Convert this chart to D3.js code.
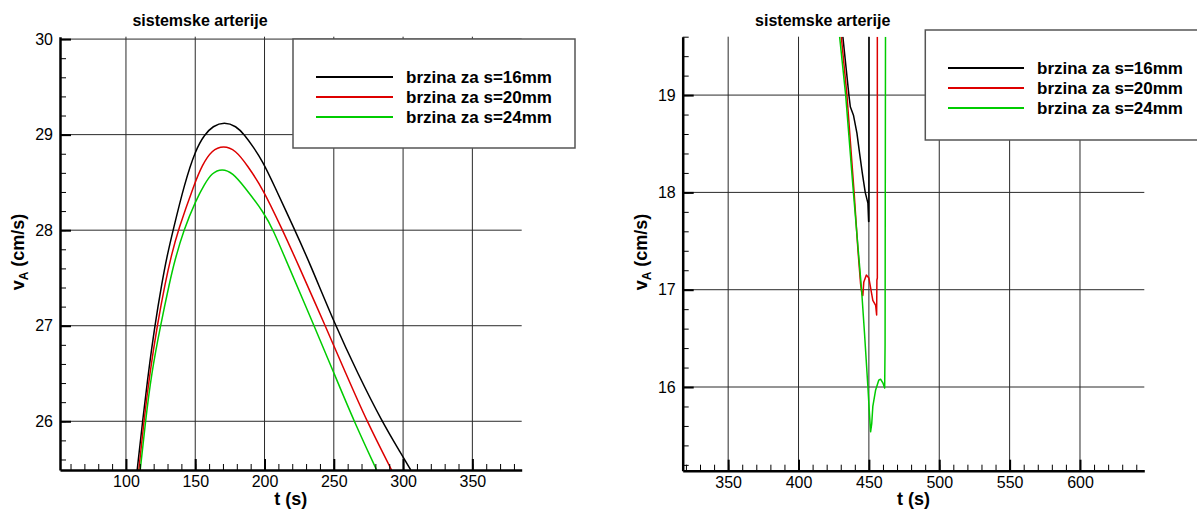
<!DOCTYPE html>
<html><head><meta charset="utf-8">
<script src="https://cdn.jsdelivr.net/npm/d3@7"></script>
<style>
body{margin:0;background:#fff}
svg{display:block;font-family:"Liberation Sans",Arial,Helvetica,sans-serif}
</style>
</head><body>
<svg id="c" width="1197" height="512"></svg>
<script>
// ---------- data ----------
const titleText = "sistemske arterije";
const xTitle = "t (s)";
const seriesNames = ["brzina za s=16mm", "brzina za s=20mm", "brzina za s=24mm"];
const seriesColors = ["#000000", "#dd0000", "#00cc00"];

const leftMajorX = [100, 150, 200, 250, 300, 350];
const leftMajorY = [26, 27, 28, 29, 30];
const rightMajorX = [350, 400, 450, 500, 550, 600];
const rightMajorY = [16, 17, 18, 19];

// [t, vA] pairs, left panel
const left16 = [[108.1,25.49],[112,26.0],[116.1,26.5],[120.8,27.0],[126.1,27.46],[129.5,27.72],[134,28.0],[142.3,28.49],[150.2,28.84],[156.7,29.0],[162.7,29.09],[171,29.135],[179.5,29.09],[185.4,29.0],[192,28.87],[198.6,28.72],[206.3,28.49],[221.9,28.0],[232.2,27.67],[251.2,27.0],[267.3,26.5],[284.6,26.0],[299,25.65],[305.5,25.49]];
const left20 = [[109.3,25.49],[112.9,26.0],[117.2,26.5],[122.5,27.0],[128.5,27.46],[132.5,27.72],[137.6,28.0],[149.5,28.49],[155,28.68],[162,28.84],[170.5,28.885],[179,28.84],[187.5,28.68],[198.6,28.44],[213,28.0],[223.4,27.67],[243.8,27.0],[258.7,26.5],[273.8,26.0],[291.7,25.49]];
const left24 = [[110.3,25.49],[114.1,26.0],[118.4,26.5],[124.9,27.0],[131.6,27.46],[135,27.67],[141.6,28.0],[150.7,28.32],[156.7,28.48],[162,28.6],[169.4,28.645],[177,28.6],[185.4,28.455],[199.8,28.18],[206.3,28.0],[215.4,27.69],[235.8,27.0],[250.2,26.5],[264.6,26.0],[280.9,25.49]];

// [t, vA] pairs, right panel
const right16 = [[431.5,19.6],[435.8,19.0],[436.8,18.88],[439.1,18.79],[441.5,18.61],[443.4,18.40],[445.3,18.20],[447.4,18.0],[449.3,17.89],[449.8,17.70],[450.0,17.70],[450.1,19.6]];
const right20 = [[430.4,19.6],[434.4,19.0],[439.5,18.0],[442.2,17.41],[444.1,17.06],[445.0,16.96],[445.7,16.94],[446.4,17.08],[448.2,17.15],[450,17.12],[452.8,16.89],[454.8,16.84],[455.5,16.74],[455.7,17.1],[456.0,17.12],[456.0,19.6]];
const right24 = [[429.2,19.6],[433.5,19.0],[439.0,18.0],[444.8,17.0],[446.9,16.55],[449.3,16.0],[450.3,15.75],[451.2,15.54],[452.0,15.62],[452.8,15.80],[454.8,15.97],[457,16.07],[458.3,16.08],[460,16.04],[461.2,15.99],[461.5,16.43],[461.8,19.6]];

// ---------- drawing ----------
const svg = d3.select("#c");
const fontFam = '"Liberation Sans", Arial, Helvetica, sans-serif';

function panel(o) {
  const x = d3.scaleLinear().domain(o.xDomain).range([o.left, o.right]);
  const y = d3.scaleLinear().domain(o.yDomain).range([o.bottom, o.top]);
  const g = svg.append("g");

  // grid
  g.selectAll("line.gx").data(o.majorX).join("line").attr("class", "gx")
    .attr("x1", d => x(d)).attr("x2", d => x(d))
    .attr("y1", o.bottom).attr("y2", o.top)
    .attr("stroke", "#2a2a2a").attr("stroke-width", 1);
  g.selectAll("line.gy").data(o.majorY).join("line").attr("class", "gy")
    .attr("x1", o.left).attr("x2", o.right)
    .attr("y1", d => y(d)).attr("y2", d => y(d))
    .attr("stroke", "#2a2a2a").attr("stroke-width", 1);

  // curves
  const cid = "clip" + o.id;
  svg.append("clipPath").attr("id", cid).append("rect")
    .attr("x", o.left).attr("y", o.top)
    .attr("width", o.right - o.left).attr("height", o.bottom - o.top);
  const line = d3.line().x(d => x(d[0])).y(d => y(d[1])).curve(o.curve);
  g.append("g").attr("clip-path", `url(#${cid})`)
    .selectAll("path").data(o.series).join("path")
    .attr("d", line).attr("fill", "none")
    .attr("stroke", (d, i) => seriesColors[i])
    .attr("stroke-width", 1.5).attr("stroke-linejoin", "round");

  // legend
  const L = o.legend;
  g.append("rect").attr("x", L.x).attr("y", L.y).attr("width", L.w).attr("height", L.h)
    .attr("fill", "#fff").attr("stroke", "#555").attr("stroke-width", 1.5);
  seriesNames.forEach((name, i) => {
    const yy = L.row0 + i * 20;
    g.append("line").attr("x1", L.lx1).attr("x2", L.lx2).attr("y1", yy).attr("y2", yy)
      .attr("stroke", seriesColors[i]).attr("stroke-width", 2);
    g.append("text").attr("x", L.tx).attr("y", yy + 5.5)
      .attr("font-size", 17).attr("font-weight", "bold").attr("font-family", fontFam)
      .text(name);
  });

  // axes: major
  const ay = d3.axisLeft(y).tickValues(o.majorY).tickSize(-11).tickSizeOuter(0).tickPadding(7)
    .tickFormat(d3.format("d"));
  const gy = g.append("g").attr("transform", `translate(${o.left},0)`).call(ay);
  const ax = d3.axisBottom(x).tickValues(o.majorX).tickSize(-11).tickSizeOuter(0).tickPadding(6)
    .tickFormat(d3.format("d"));
  const gx = g.append("g").attr("transform", `translate(0,${o.bottom})`).call(ax);
  // minor
  const mY = d3.axisLeft(y).tickValues(o.minorY).tickSize(-6).tickSizeOuter(0).tickFormat("");
  const gmy = g.append("g").attr("transform", `translate(${o.left},0)`).call(mY);
  const mX = d3.axisBottom(x).tickValues(o.minorX).tickSize(-6).tickSizeOuter(0).tickFormat("");
  const gmx = g.append("g").attr("transform", `translate(0,${o.bottom})`).call(mX);
  [gy, gx].forEach(a => {
    a.selectAll(".tick line").attr("stroke", "#000").attr("stroke-width", 2);
    a.selectAll(".tick text").attr("font-size", 16).attr("font-family", fontFam).attr("fill", "#000");
    a.select(".domain").attr("stroke", "#000").attr("stroke-width", 2.5);
  });
  [gmy, gmx].forEach(a => {
    a.selectAll(".tick line").attr("stroke", "#000").attr("stroke-width", 1);
    a.select(".domain").remove();
  });

  // titles
  g.append("text").attr("x", o.left + 140).attr("y", 26).attr("text-anchor", "middle")
    .attr("font-size", 16).attr("font-weight", "bold").attr("font-family", fontFam)
    .text(titleText);
  g.append("text").attr("x", (o.left + o.right) / 2).attr("y", 505).attr("text-anchor", "middle")
    .attr("font-size", 18).attr("font-weight", "bold").attr("font-family", fontFam)
    .text(xTitle);
  const yt = g.append("text").attr("transform", `translate(${o.left - 36},252) rotate(-90)`)
    .attr("text-anchor", "middle").attr("font-size", 18).attr("font-weight", "bold")
    .attr("font-family", fontFam);
  yt.append("tspan").text("v");
  yt.append("tspan").attr("font-size", 12).attr("dy", 4).text("A");
  yt.append("tspan").attr("dy", -4).text(" (cm/s)");
}

panel({
  id: "L", left: 60, right: 521.7, top: 36.7, bottom: 470,
  xDomain: [52.4, 385.6], yDomain: [25.49, 30.025],
  majorX: leftMajorX, majorY: leftMajorY,
  minorX: d3.range(60, 381, 10), minorY: d3.range(25.6, 30.01, 0.2),
  series: [left16, left20, left24], curve: d3.curveBasis,
  legend: {x: 293, y: 39, w: 282, h: 109, lx1: 316, lx2: 393, tx: 406, row0: 77}
});
panel({
  id: "R", left: 682.7, right: 1144.3, top: 36.7, bottom: 470.7,
  xDomain: [317.7, 645.7], yDomain: [15.14, 19.6],
  majorX: rightMajorX, majorY: rightMajorY,
  minorX: d3.range(320, 641, 10), minorY: d3.range(15.2, 19.61, 0.2),
  series: [right16, right20, right24], curve: d3.curveLinear,
  legend: {x: 925.3, y: 30, w: 290, h: 110, lx1: 948, lx2: 1024, tx: 1037, row0: 68}
});
</script>
</body></html>
